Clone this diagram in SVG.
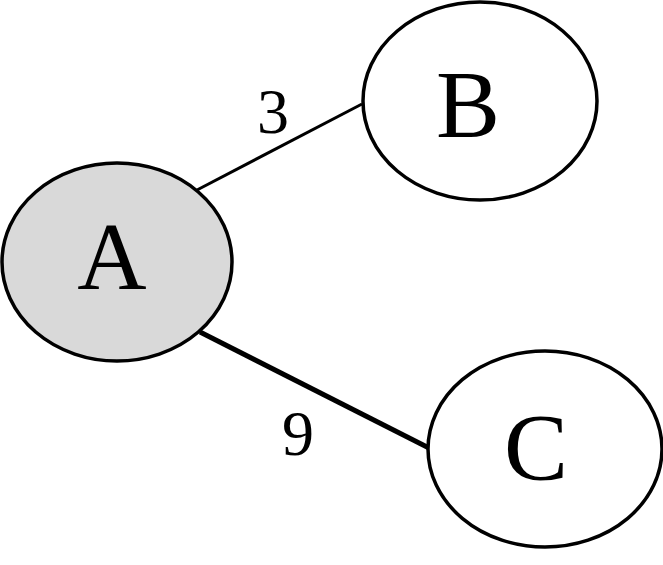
<svg xmlns="http://www.w3.org/2000/svg" width="663" height="565" viewBox="0 0 663 565">
<style>
.node{stroke:#000;stroke-width:3.5}
.lbl{font-family:"Liberation Serif","Times New Roman",serif;font-size:96px;fill:#000;text-anchor:middle}
.elbl{font-family:"Liberation Serif","Times New Roman",serif;font-size:64px;fill:#000;text-anchor:middle}
</style>
<rect width="663" height="565" fill="#fff"/>
<g id="edges" stroke="#000" fill="none">
<line x1="197" y1="190" x2="362" y2="104" stroke-width="3"/>
<line x1="200" y1="332" x2="429" y2="448" stroke-width="5"/>
<text class="elbl" x="273" y="133" stroke="none">3</text>
<text class="elbl" x="298" y="455" stroke="none">9</text>
</g>
<g id="A"><ellipse class="node" cx="117" cy="262" rx="115" ry="99" fill="#d9d9d9"/><text class="lbl" x="112" y="289">A</text></g>
<g id="B"><ellipse class="node" cx="480" cy="101" rx="117" ry="99" fill="#fff"/><text class="lbl" x="468" y="137">B</text></g>
<g id="C"><ellipse class="node" cx="545" cy="449" rx="117" ry="98" fill="#fff"/><text class="lbl" x="536" y="480">C</text></g>
</svg>
